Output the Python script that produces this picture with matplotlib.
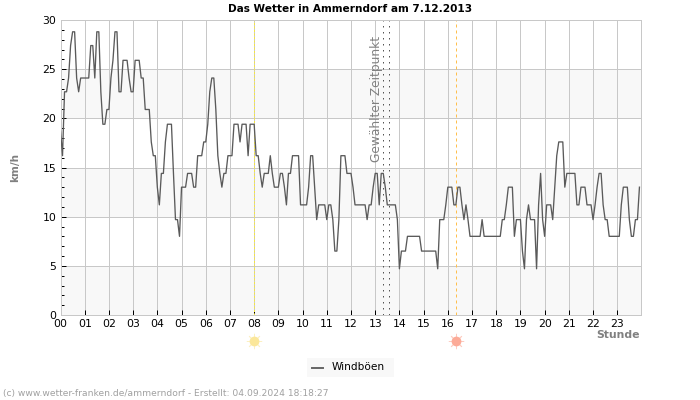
import matplotlib
matplotlib.use("Agg")
import matplotlib.pyplot as plt
import numpy as np
from matplotlib.patches import Rectangle
from matplotlib.lines import Line2D
from matplotlib.ticker import MultipleLocator

# Windboeen in km/h, 5 minute samples, one row per hour
h00 = [18.7, 16.2, 22.7, 22.7, 24.1, 27.4, 28.8, 28.8, 24.1, 22.7, 24.1, 24.1]
h01 = [24.1, 24.1, 24.1, 27.4, 27.4, 24.1, 28.8, 28.8, 22.7, 19.4, 19.4, 20.9]
h02 = [20.9, 24.1, 25.9, 28.8, 28.8, 22.7, 22.7, 25.9, 25.9, 25.9, 24.1, 22.7]
h03 = [22.7, 25.9, 25.9, 25.9, 24.1, 24.1, 20.9, 20.9, 20.9, 17.6, 16.2, 16.2]
h04 = [13.0, 11.2, 14.4, 14.4, 17.6, 19.4, 19.4, 19.4, 14.4, 9.7, 9.7, 8.0]
h05 = [13.0, 13.0, 13.0, 14.4, 14.4, 14.4, 13.0, 13.0, 16.2, 16.2, 16.2, 17.6]
h06 = [17.6, 19.4, 22.7, 24.1, 24.1, 20.9, 16.2, 14.4, 13.0, 14.4, 14.4, 16.2]
h07 = [16.2, 16.2, 19.4, 19.4, 19.4, 17.6, 19.4, 19.4, 19.4, 16.2, 19.4, 19.4]
h08 = [19.4, 16.2, 16.2, 14.4, 13.0, 14.4, 14.4, 14.4, 16.2, 14.4, 13.0, 13.0]
h09 = [13.0, 14.4, 14.4, 13.0, 11.2, 14.4, 14.4, 16.2, 16.2, 16.2, 16.2, 11.2]
h10 = [11.2, 11.2, 11.2, 13.0, 16.2, 16.2, 13.0, 9.7, 11.2, 11.2, 11.2, 11.2]
h11 = [9.7, 11.2, 11.2, 9.7, 6.5, 6.5, 9.7, 16.2, 16.2, 16.2, 14.4, 14.4]
h12 = [14.4, 13.0, 11.2, 11.2, 11.2, 11.2, 11.2, 11.2, 9.7, 11.2, 11.2, 13.0]
h13 = [14.4, 14.4, 11.2, 14.4, 14.4, 13.0, 11.2, 11.2, 11.2, 11.2, 11.2, 9.7]
h14 = [4.7, 6.5, 6.5, 6.5, 8.0, 8.0, 8.0, 8.0, 8.0, 8.0, 8.0, 6.5]
h15 = [6.5, 6.5, 6.5, 6.5, 6.5, 6.5, 6.5, 4.7, 9.7, 9.7, 9.7, 11.2]
h16 = [13.0, 13.0, 13.0, 11.2, 11.2, 13.0, 13.0, 11.2, 9.7, 11.2, 9.7, 8.0]
h17 = [8.0, 8.0, 8.0, 8.0, 8.0, 9.7, 8.0, 8.0, 8.0, 8.0, 8.0, 8.0]
h18 = [8.0, 8.0, 8.0, 9.7, 9.7, 11.2, 13.0, 13.0, 13.0, 8.0, 9.7, 9.7]
h19 = [9.7, 6.5, 4.7, 9.7, 11.2, 9.7, 9.7, 9.7, 4.7, 11.2, 14.4, 9.7]
h20 = [8.0, 11.2, 11.2, 11.2, 9.7, 13.0, 16.2, 17.6, 17.6, 17.6, 13.0, 14.4]
h21 = [14.4, 14.4, 14.4, 14.4, 11.2, 11.2, 13.0, 13.0, 13.0, 11.2, 11.2, 11.2]
h22 = [9.7, 11.2, 13.0, 14.4, 14.4, 11.2, 9.7, 9.7, 8.0, 8.0, 8.0, 8.0]
h23 = [8.0, 8.0, 11.2, 13.0, 13.0, 13.0, 9.7, 8.0, 8.0, 9.7, 9.7, 13.0]

hours = [f"{h:02d}" for h in range(24)]
sunrise = 8.0
sunset = 16.34
selected = [13.34, 13.59]

gusts = h00 + h01 + h02 + h03 + h04 + h05 + h06 + h07 + h08 + h09 + h10 + h11 \
    + h12 + h13 + h14 + h15 + h16 + h17 + h18 + h19 + h20 + h21 + h22 + h23
times = np.arange(len(gusts)) * 5 / 60

GRID = "#c8c8c8"
BAND = "#f8f8f8"

fig = plt.figure(figsize=(7, 4), dpi=100)
ax = fig.add_axes([60.5 / 700, 85 / 400, 580 / 700, 295 / 400])
ax.set_xlim(0, 23.96)
ax.set_ylim(0, 30)

# grey bands every second 5 km/h step
for low in [0, 10, 20]:
    ax.axhspan(low, low + 5, color=BAND, lw=0, zorder=0)

ax.set_xticks(range(24))
ax.set_xticklabels(hours, fontsize=7.8)
ax.yaxis.set_major_locator(MultipleLocator(5))
ax.yaxis.set_minor_locator(MultipleLocator(1))
ax.tick_params(axis="x", direction="in", length=3.5, width=0.72, color="black", pad=3)
ax.tick_params(axis="y", which="major", direction="in", length=3.5, width=0.72, color="black", labelsize=7.8, pad=3)
ax.tick_params(axis="y", which="minor", direction="in", length=2.5, width=0.72, color="black")
ax.grid(True, which="major", color=GRID, lw=0.72, zorder=1)
ax.set_axisbelow(True)
for s in ax.spines.values():
    s.set_color(GRID)
    s.set_linewidth(0.72)

ax.axvline(sunrise, color="#f5e642", lw=0.72, ls=(0, (2, 1.5)), zorder=2)
ax.axvline(sunset, color="#ffc04d", lw=0.72, ls=(0, (3, 3)), zorder=2)
for x in selected:
    ax.axvline(x, color="#555555", lw=0.72, ls=(0, (1.5, 4.5)), zorder=2)

ax.plot(times, gusts, color="#5a5a5a", lw=0.95, zorder=3)

ax.text(13.05, 22.0, "Gewählter Zeitpunkt", rotation=90, ha="center", va="center",
        fontsize=8.8, color="#808080", zorder=4)

fig.text(350 / 700, 1 - 8.5 / 400, "Das Wetter in Ammerndorf am 7.12.2013", ha="center", va="center",
         fontsize=7.6, fontweight="bold", color="black")
fig.text(15.5 / 700, 1 - 167 / 400, "km/h", rotation=90, ha="center", va="center",
         fontsize=7.5, fontweight="bold", color="#808080")
fig.text(640 / 700, 1 - 334.5 / 400, "Stunde", ha="right", va="center",
         fontsize=7.8, fontweight="bold", color="#808080")
fig.text(3 / 700, 1 - 393.5 / 400, "(c) www.wetter-franken.de/ammerndorf - Erstellt: 04.09.2024 18:18:27",
         ha="left", va="center", fontsize=6.6, color="#a0a0a0")

# sun icons below the axis
trans = ax.get_xaxis_transform()
for x, col in [(sunrise, "#fbe79a"), (sunset, "#fcab98")]:
    ax.plot([x], [-0.088], marker="o", ms=6, mfc=col, mec=col, clip_on=False, transform=trans, zorder=5)
    ax.plot([x], [-0.088], marker=(8, 2, 0), ms=11, mec=col, mew=0.6, alpha=0.6, clip_on=False,
            transform=trans, zorder=5)

# legend drawn by hand to fit the small box
fig.add_artist(Rectangle((307 / 700, 1 - 377 / 400), 87 / 700, 19 / 400, transform=fig.transFigure,
                         facecolor=BAND, edgecolor="none"))
fig.add_artist(Line2D([312 / 700, 323 / 700], [1 - 368 / 400, 1 - 368 / 400], transform=fig.transFigure,
                      color="#666666", lw=1.4))
fig.text(332 / 700, 1 - 366.5 / 400, "Windböen", ha="left", va="center", fontsize=7.6, color="black")

fig.savefig("out.png", dpi=100)
